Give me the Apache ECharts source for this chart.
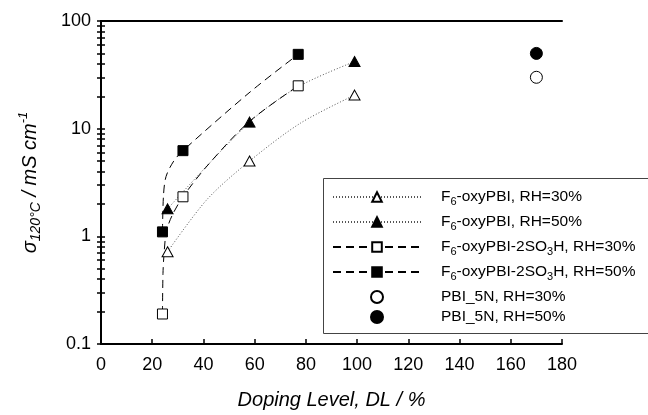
<!DOCTYPE html>
<html>
<head>
<meta charset="utf-8">
<script src="https://cdn.jsdelivr.net/npm/echarts@6/dist/echarts.min.js"></script>
<style>html,body{margin:0;padding:0;background:#fff}#chart{width:648px;height:415px}</style>
</head>
<body>
<div id="chart"></div>
<script>
var FONT = '"Liberation Sans", Arial, sans-serif';

// measured points: [doping level %, conductivity mS/cm]
var f6Rh30 = [[26, 0.72], [58, 5.0], [99, 20.5]];
var f6Rh50 = [[26, 1.8], [58, 11.5], [99, 42]];
var so3hRh30 = [[24, 0.19], [32, 2.33], [77, 25]];
var so3hRh50 = [[24, 1.1], [32, 6.25], [77, 49]];
var pbiRh30 = [[170, 30]];
var pbiRh50 = [[170, 50]];

// extra points (drawn without marker)
var f6Rh30Fit = [[41.4, 2.2], [78, 11.3]];
var f6Rh50Fit = [[77, 24.5]];
var so3hRh30Fit = [[24.2, 0.45], [24.6, 0.68], [25.5, 1.1], [27.7, 1.55], [41.4, 4.5], [58, 11.7]];
var so3hRh50Fit = [[24.4, 2.4], [25.4, 3.6], [28.4, 5.0], [58.3, 22]];

var seriesNames = ['F6-oxyPBI, RH=30%', 'F6-oxyPBI, RH=50%', 'F6-oxyPBI-2SO3H, RH=30%',
	'F6-oxyPBI-2SO3H, RH=50%', 'PBI_5N, RH=30%', 'PBI_5N, RH=50%'];
var legendLabels = ['F{sub|6}-oxyPBI, RH=30%', 'F{sub|6}-oxyPBI, RH=50%', 'F{sub|6}-oxyPBI-2SO{sub|3}H, RH=30%',
	'F{sub|6}-oxyPBI-2SO{sub|3}H, RH=50%', 'PBI_5N, RH=30%', 'PBI_5N, RH=50%'];

var xTicks = [0, 180, 20];
var yLabels = [0.1, 1, 10, 100];
var yTicks = [0.1, 0.2, 0.3, 0.4, 0.5, 0.6, 0.7, 0.8, 0.9,
	1, 2, 3, 4, 5, 6, 7, 8, 9,
	10, 20, 30, 40, 50, 60, 70, 80, 90, 100];

// 测量点带符号，拟合点不带符号
function curveData(pts, fit) {
	var all = pts.map(function(p) { return { value: p }; })
		.concat(fit.map(function(p) { return { value: p, symbol: 'none' }; }));
	all.sort(function(a, b) { return a.value[0] - b.value[0] || a.value[1] - b.value[1]; });
	return all;
}

function lineSeries(idx, pts, fit, symbol, size, fill, lineType, lineColor) {
	return {
		name: seriesNames[idx],
		type: 'line',
		smooth: 0.3,
		data: curveData(pts, fit),
		symbol: symbol,
		symbolSize: size,
		showSymbol: true,
		z: 3,
		itemStyle: { color: fill, borderColor: '#000', borderWidth: 1 },
		lineStyle: { color: lineColor, width: 1, type: lineType }
	};
}

var chart = echarts.init(document.getElementById('chart'));

var axisFont = { fontFamily: FONT, fontSize: 18, color: '#000' };
var rich = {
	sub: { fontFamily: FONT, fontSize: 11, color: '#000', lineHeight: 12, verticalAlign: 'bottom' }
};
var legendText = { fontFamily: FONT, fontSize: 15.5, color: '#000', lineHeight: 20, padding: [0, 0, 0, 15], rich: rich };

var option = {
	animation: false,
	backgroundColor: '#fff',
	grid: { left: 101, right: 86, top: 21, bottom: 70 },
	graphic: [{
		type: 'rect',
		z: 3,
		shape: { x: 323.5, y: 178.5, width: 340, height: 155 },
		style: { fill: '#fff', stroke: '#444', lineWidth: 1 }
	}],
	legend: [{
		data: seriesNames.slice(0, 4),
		orient: 'vertical',
		left: 332,
		top: 187,
		padding: 0,
		itemGap: 5,
		itemWidth: 88,
		itemHeight: 12,
		z: 5,
		formatter: function(name) { return legendLabels[seriesNames.indexOf(name)]; },
		textStyle: legendText
	}, {
		data: seriesNames.slice(4).map(function(n) { return { name: n, lineStyle: { opacity: 0 } }; }),
		orient: 'vertical',
		left: 332,
		top: 287,
		padding: 0,
		itemGap: 0,
		itemWidth: 88,
		itemHeight: 15,
		z: 5,
		textStyle: legendText
	}],
	xAxis: [{
		type: 'value',
		position: 'bottom',
		min: xTicks[0],
		max: xTicks[1],
		interval: xTicks[2],
		name: 'Doping Level, DL / %',
		nameLocation: 'middle',
		nameGap: 46,
		nameTextStyle: { fontFamily: FONT, fontSize: 20, fontStyle: 'italic', color: '#000' },
		axisLine: { lineStyle: { color: '#000', width: 2 } },
		axisTick: { inside: true, length: 5, lineStyle: { color: '#000', width: 1.5 } },
		axisLabel: Object.assign({ margin: 12 }, axisFont),
		splitLine: { show: false }
	}, {
		type: 'value',
		position: 'top',
		min: xTicks[0],
		max: xTicks[1],
		interval: xTicks[2],
		axisLine: { lineStyle: { color: '#000', width: 2 } },
		axisTick: { show: false },
		axisLabel: { show: false },
		splitLine: { show: false }
	}],
	yAxis: [{
		type: 'log',
		logBase: 10,
		position: 'left',
		min: 0.1,
		max: 100,
		name: '{i|σ}{s|120°C}{i| / mS cm}{p|-1}',
		nameLocation: 'middle',
		nameRotate: 90,
		nameGap: 58,
		nameTextStyle: {
			fontFamily: FONT, fontSize: 20, fontStyle: 'italic', color: '#000',
			rich: {
				i: { fontFamily: FONT, fontSize: 20, fontStyle: 'italic', color: '#000', lineHeight: 26 },
				s: { fontFamily: FONT, fontSize: 14, fontStyle: 'italic', color: '#000', lineHeight: 15, verticalAlign: 'bottom' },
				p: { fontFamily: FONT, fontSize: 13, fontStyle: 'italic', color: '#000', lineHeight: 15, verticalAlign: 'top' }
			}
		},
		axisLine: { show: true, lineStyle: { color: '#000', width: 2 } },
		axisTick: { show: true, inside: true, length: 4, customValues: yTicks, lineStyle: { color: '#000', width: 1.5 } },
		axisLabel: Object.assign({ margin: 10, customValues: yLabels }, axisFont),
		splitLine: { show: false }
	}, {
		type: 'log',
		logBase: 10,
		position: 'right',
		min: 0.1,
		max: 100,
		axisLine: { show: true, lineStyle: { color: '#000', width: 2 } },
		axisTick: { show: true, inside: true, length: 4, customValues: yTicks, lineStyle: { color: '#000', width: 1.5 } },
		axisLabel: { show: false },
		splitLine: { show: false }
	}],
	series: [
		lineSeries(0, f6Rh30, f6Rh30Fit, 'triangle', [11, 10], '#fff', [1, 2], '#555'),
		lineSeries(1, f6Rh50, f6Rh50Fit, 'triangle', [11, 10], '#000', [1, 2], '#555'),
		lineSeries(2, so3hRh30, so3hRh30Fit, 'rect', 10, '#fff', [8, 5], '#000'),
		lineSeries(3, so3hRh50, so3hRh50Fit, 'rect', 10, '#000', [8, 5], '#000'),
		{
			name: seriesNames[4], type: 'line', data: pbiRh30, symbol: 'circle', symbolSize: 12, z: 3,
			itemStyle: { color: '#fff', borderColor: '#000', borderWidth: 1 },
			lineStyle: { opacity: 0 }
		},
		{
			name: seriesNames[5], type: 'line', data: pbiRh50, symbol: 'circle', symbolSize: 12, z: 3,
			itemStyle: { color: '#000', borderColor: '#000', borderWidth: 1 },
			lineStyle: { opacity: 0 }
		}
	]
};
chart.setOption(option);
</script>
</body>
</html>
